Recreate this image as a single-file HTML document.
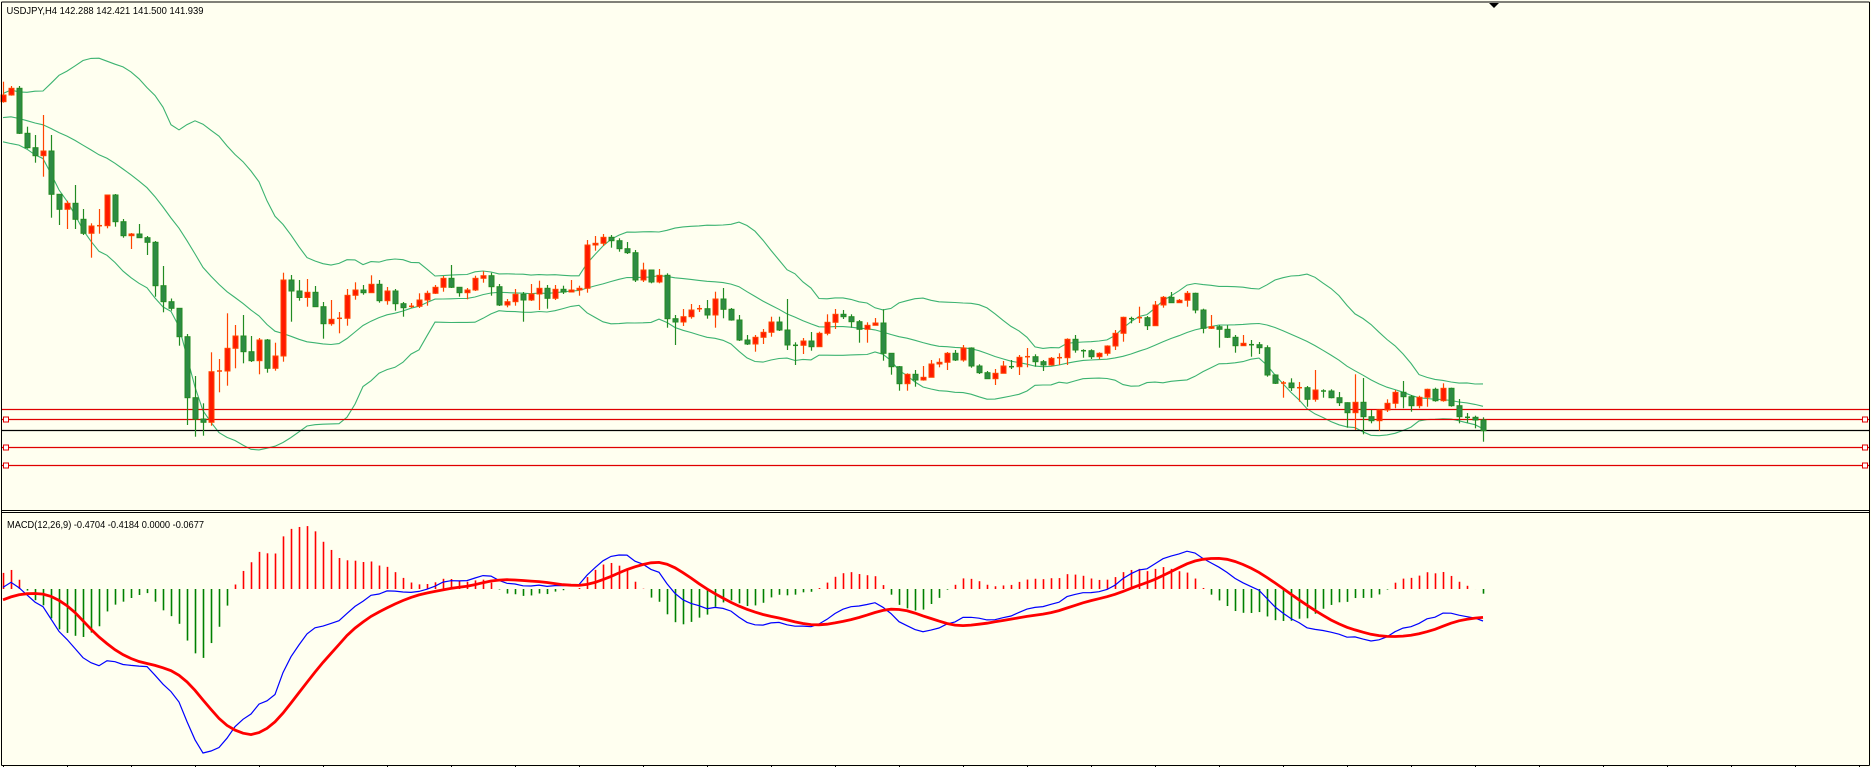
<!DOCTYPE html>
<html><head><meta charset="utf-8"><style>
html,body{margin:0;padding:0;background:#fffff0;}
svg{display:block;}
text{font-family:"Liberation Sans",sans-serif;}
</style></head><body>
<svg id="chart" width="1871" height="767" viewBox="0 0 1871 767" xmlns="http://www.w3.org/2000/svg">
<rect x="0" y="0" width="1871" height="767" fill="#fffff0"/>
<g id="bb"></g>
<g id="levels"></g>
<g id="candles"></g>
<g id="macd"></g>
<g fill="none" stroke="#000" stroke-width="1">
<line x1="1.5" y1="2" x2="1869.5" y2="2"/>
<line x1="1.5" y1="2" x2="1.5" y2="765.5"/>
<line x1="1869.5" y1="2" x2="1869.5" y2="765.5"/>
<line x1="1.5" y1="510.5" x2="1869.5" y2="510.5"/>
<line x1="1.5" y1="512.5" x2="1869.5" y2="512.5"/>
<line x1="1.5" y1="765.5" x2="1869.5" y2="765.5"/>
</g>
<g id="ticks"></g>
<polygon points="1489,3 1499,3 1494,8" fill="#000"/>
<text x="6.5" y="14" font-size="10.5" textLength="197" lengthAdjust="spacingAndGlyphs" fill="#000">USDJPY,H4  142.288 142.421 141.500 141.939</text>
<text x="7" y="528" font-size="10.5" textLength="197" lengthAdjust="spacingAndGlyphs" fill="#000">MACD(12,26,9) -0.4704 -0.4184 0.0000 -0.0677</text>
</svg>
<script>
// history closes before the visible range (warm-up for indicators)
const historyCloses=[145.20,145.25,145.22,145.15,145.10,145.05,144.98,144.92,144.90,144.88,144.93,144.97,145.00,145.05,145.02,145.08,145.12,145.15,145.20];
const firstOpen=145.233;
const closes=[145.300,145.367,144.917,144.773,144.693,144.740,144.307,144.157,144.217,144.057,143.917,143.990,143.993,144.300,144.033,143.893,143.910,143.873,143.827,143.393,143.233,143.167,142.883,142.273,142.060,142.027,142.533,142.540,142.767,142.890,142.733,142.643,142.850,142.567,142.690,143.450,143.340,143.275,143.327,143.183,143.013,143.057,143.067,143.297,143.350,143.323,143.407,143.243,143.340,143.213,143.173,143.187,143.250,143.317,143.377,143.467,143.377,143.323,143.350,143.467,143.493,143.383,143.200,143.233,143.307,143.250,143.310,143.367,143.267,143.357,143.330,143.350,143.367,143.800,143.817,143.877,143.843,143.763,143.723,143.450,143.550,143.430,143.497,143.063,143.030,143.083,143.150,143.163,143.100,143.260,143.157,143.050,142.850,142.810,142.877,142.927,143.030,142.950,142.800,142.797,142.840,142.783,142.917,143.027,143.107,143.083,143.033,142.957,142.997,143.020,142.717,142.583,142.413,142.507,142.450,142.477,142.610,142.627,142.717,142.650,142.770,142.590,142.523,142.463,142.517,142.590,142.583,142.677,142.683,142.633,142.600,142.667,142.673,142.857,142.750,142.743,142.683,142.717,142.790,142.917,143.077,143.063,143.073,142.993,143.200,143.277,143.223,143.247,143.317,143.150,142.967,142.983,142.957,142.877,142.793,142.817,142.803,142.773,142.500,142.417,142.420,142.373,142.373,142.257,142.350,142.340,142.273,142.223,142.123,142.227,142.083,142.043,142.150,142.217,142.327,142.283,142.193,142.277,142.357,142.243,142.367,142.193,142.083,142.077,142.050,141.943];
const highs=[145.433,145.390,145.390,144.983,144.900,145.100,144.900,144.310,144.243,144.400,144.160,144.017,144.160,144.300,144.310,144.060,143.920,144.010,143.890,143.840,143.590,143.265,143.167,142.910,142.490,142.217,142.727,142.660,143.117,143.000,143.100,142.890,142.870,142.860,142.823,143.523,143.500,143.450,143.460,143.390,143.230,143.250,143.130,143.360,143.427,143.400,143.497,143.450,143.380,143.360,143.230,143.220,143.317,143.343,143.400,143.490,143.600,143.380,143.370,143.493,143.537,143.523,143.410,143.260,143.360,143.330,143.410,143.443,143.400,143.400,143.393,143.450,143.393,143.850,143.890,143.910,143.900,143.867,143.830,143.750,143.623,143.550,143.560,143.517,143.100,143.160,143.210,143.200,143.250,143.333,143.370,143.170,143.100,142.900,142.900,142.960,143.083,143.083,143.260,142.827,142.870,142.930,142.933,143.107,143.160,143.150,143.107,143.050,143.027,143.070,143.157,142.717,142.590,142.517,142.550,142.590,142.650,142.667,142.730,142.750,142.800,142.777,142.607,142.540,142.560,142.640,142.650,142.700,142.770,142.707,142.650,142.680,142.717,142.867,142.900,142.757,142.757,142.727,142.797,142.950,143.083,143.083,143.183,143.090,143.240,143.290,143.330,143.260,143.340,143.323,143.163,143.100,142.997,142.997,142.900,142.900,142.850,142.830,142.797,142.507,142.440,142.467,142.430,142.390,142.550,142.357,142.357,142.330,142.227,142.507,142.470,142.150,142.157,142.257,142.350,142.440,142.300,142.293,142.363,142.373,142.417,142.373,142.260,142.120,142.093,142.077];
const lows=[145.223,145.293,144.910,144.763,144.623,144.483,144.073,144.000,143.960,143.960,143.900,143.673,143.913,143.967,143.983,143.873,143.760,143.870,143.700,143.283,143.127,143.143,142.793,142.000,141.883,141.893,141.993,142.327,142.393,142.567,142.617,142.630,142.507,142.523,142.543,142.633,143.033,143.243,143.183,143.180,142.863,142.993,142.917,142.993,143.253,143.303,143.320,143.223,143.203,143.143,143.083,143.170,143.170,143.193,143.310,143.333,143.370,143.283,143.257,143.340,143.423,143.293,143.190,143.177,143.193,143.033,143.240,143.150,143.163,143.250,143.310,143.340,143.293,143.323,143.743,143.790,143.773,143.733,143.710,143.430,143.430,143.417,143.417,142.973,142.800,142.990,143.063,143.130,143.063,142.973,143.067,143.043,142.840,142.800,142.733,142.810,142.883,142.940,142.750,142.600,142.710,142.743,142.783,142.897,142.960,143.060,142.973,142.823,142.823,142.997,142.643,142.503,142.343,142.343,142.383,142.443,142.477,142.577,142.550,142.640,142.633,142.573,142.510,142.460,142.400,142.517,142.560,142.500,142.577,142.583,142.540,142.593,142.600,142.600,142.723,142.673,142.660,142.657,142.693,142.750,142.833,143.017,143.020,142.950,142.993,143.173,143.223,143.220,143.183,143.117,142.917,142.960,142.773,142.870,142.723,142.790,142.683,142.710,142.483,142.410,142.273,142.340,142.233,142.183,142.233,142.273,142.267,142.190,141.973,141.950,141.907,142.017,141.943,142.130,142.167,142.167,142.133,142.167,142.183,142.233,142.233,142.183,142.017,142.023,141.967,141.833];
const levelPrices=[142.160,142.060,141.950,141.780,141.600];
const levelKinds=['red','red-box','black','red-box','red-box'];

const NS='http://www.w3.org/2000/svg';
function mk(tag,attrs,parent){const e=document.createElementNS(NS,tag);for(const k in attrs)e.setAttribute(k,attrs[k]);parent.appendChild(e);return e;}
const xOf=i=>3+8*i;
const yP=p=>(146.25-p)*100;

// candles
const cg=document.getElementById('candles');
for(let i=0;i<closes.length;i++){
  const o=i===0?firstOpen:closes[i-1], c=closes[i];
  const bull=c>=o, x=xOf(i);
  const g=mk('g',{},cg);
  
  
  const wick=bull?'#ff4500':'#228b22';
  mk('line',{x1:x+0.5,x2:x+0.5,y1:yP(highs[i]),y2:yP(lows[i]),stroke:wick,'stroke-width':1.2},g);
  const top=Math.min(yP(o),yP(c)), h=Math.abs(yP(o)-yP(c));
  if(h<1.5){mk('line',{x1:x-2,x2:x+3,y1:yP(c),y2:yP(c),stroke:wick,'stroke-width':1.5},g);}
  else mk('rect',{x:x-2,y:top,width:5,height:h,fill:bull?'#ff1a00':'#2e8b44',stroke:bull?'#ff4500':'#228b22','stroke-width':1},g);
}

// bollinger bands (20,2)
const all=historyCloses.concat(closes), off=historyCloses.length;
const up=[],mid=[],lo=[];
for(let i=0;i<closes.length;i++){
  const w=all.slice(Math.max(0,i+off-19),i+off+1);
  const m=w.reduce((a,b)=>a+b,0)/w.length;
  const sd=Math.sqrt(w.reduce((a,b)=>a+(b-m)*(b-m),0)/w.length);
  mid.push(m);up.push(m+2*sd);lo.push(m-2*sd);
}
const bg=document.getElementById('bb');
[[up,'bb-upper'],[mid,'bb-middle'],[lo,'bb-lower']].forEach(([arr,nm])=>{
  const pl=mk('polyline',{points:arr.map((v,i)=>xOf(i)+','+yP(v).toFixed(1)).join(' '),fill:'none',stroke:'#3cb371','stroke-width':1.1},bg);
  
  
});

// levels
const lg=document.getElementById('levels');
levelPrices.forEach((p,k)=>{
  const y=Math.round(yP(p))+0.5, col=levelKinds[k]==='black'?'#000':'#e00000';
  const ln=mk('line',{x1:2,x2:1869,y1:y,y2:y,stroke:col,'stroke-width':1.2},lg);
  
  
  if(levelKinds[k]==='red-box'){
    mk('rect',{x:3.5,y:y-2.5,width:5,height:5,fill:'#fff',stroke:'#e00000','stroke-width':1},lg);
    mk('rect',{x:1862.5,y:y-2.5,width:5,height:5,fill:'#fff',stroke:'#e00000','stroke-width':1},lg);
  }
});

// MACD (12,26,9)
function ema(arr,n){const k=2/(n+1);const r=[arr[0]];for(let i=1;i<arr.length;i++)r.push(arr[i]*k+r[i-1]*(1-k));return r;}
const e12=ema(all,12),e26=ema(all,26);
const macdAll=all.map((v,i)=>e12[i]-e26[i]);
const sigAll=macdAll.map((v,i)=>{const w=macdAll.slice(Math.max(0,i-8),i+1);return w.reduce((a,b)=>a+b,0)/w.length;});
const macdV=macdAll.slice(off),sigV=sigAll.slice(off);
const histV=macdV.map((v,i)=>1.3*(v-sigV[i]));
const vmin=Math.min(...macdV,...sigV);
const y0=589;
const yM=v=>y0-v*(753-y0)/(-vmin);
const mg=document.getElementById('macd');
histV.forEach((h,i)=>{
  const b=mk('line',{x1:xOf(i)+0.5,x2:xOf(i)+0.5,y1:y0,y2:yM(h),stroke:h>=0?'#ff0000':'#008000','stroke-width':1.6},mg);
  
  
});
const ml=mk('polyline',{points:macdV.map((v,i)=>xOf(i)+','+yM(v).toFixed(1)).join(' '),fill:'none',stroke:'#0000ff','stroke-width':1.2},mg);


const sl=mk('polyline',{points:sigV.map((v,i)=>xOf(i)+','+yM(v).toFixed(1)).join(' '),fill:'none',stroke:'#ff0000','stroke-width':2.8},mg);



// time axis ticks
const tg=document.getElementById('ticks');
for(let x=3;x<1869;x+=64){
  const t=mk('line',{x1:x+0.5,x2:x+0.5,y1:765,y2:767,stroke:'#000','stroke-width':1},tg);
  
  
}
</script>
</body></html>
